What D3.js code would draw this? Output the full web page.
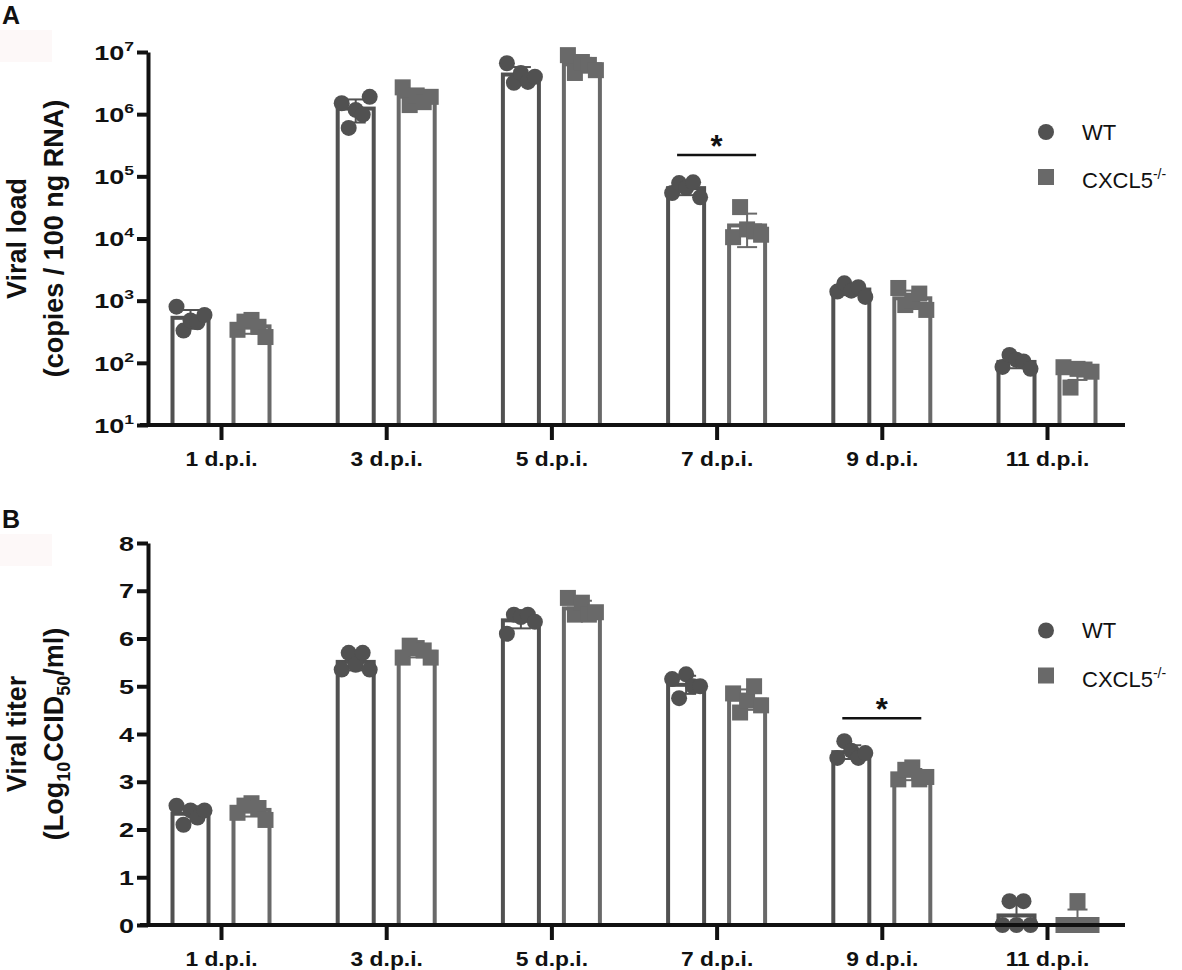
<!DOCTYPE html>
<html>
<head>
<meta charset="utf-8">
<script src="https://cdn.jsdelivr.net/npm/d3@7"></script>
<style>
  body { margin: 0; background: #fff; }
  text { font-family: "Liberation Sans", Arial, sans-serif; fill: #111; }
</style>
</head>
<body>
<svg id="chart" width="1182" height="970"></svg>
<script>
// categories
const days = ['1 d.p.i.', '3 d.p.i.', '5 d.p.i.', '7 d.p.i.', '9 d.p.i.', '11 d.p.i.'];
const groups = ['WT', 'CXCL5'];

// panel A - viral load (copies / 100 ng RNA), 5 animals per group
const loadWT = [
  [800, 330, 480, 450, 590],
  [1.5e6, 6.0e5, 1.17e6, 9.8e5, 1.9e6],
  [6.6e6, 3.2e6, 4.6e6, 3.3e6, 4.0e6],
  [5.4e4, 7.8e4, 6.5e4, 8.0e4, 4.6e4],
  [1.4e3, 1.9e3, 1.45e3, 1.65e3, 1.15e3],
  [86, 134, 112, 105, 80]
];
const loadKO = [
  [340, 460, 490, 380, 260],
  [2.7e6, 1.4e6, 2.0e6, 1.56e6, 1.9e6],
  [8.9e6, 4.6e6, 6.9e6, 6.2e6, 5.1e6],
  [1.05e4, 3.2e4, 1.4e4, 1.3e4, 1.15e4],
  [1.6e3, 850, 1.0e3, 1.3e3, 710],
  [85, 40, 80, 78, 72]
];
const loadTicks = [1e1, 1e2, 1e3, 1e4, 1e5, 1e6, 1e7];
const loadSig = [{ day: '7 d.p.i.', value: 2.2e5 }];

// panel B - viral titer (Log10 CCID50/ml)
const titerWT = [
  [2.5, 2.1, 2.4, 2.25, 2.4],
  [5.35, 5.7, 5.45, 5.7, 5.35],
  [6.1, 6.5, 6.45, 6.5, 6.35],
  [5.15, 4.75, 5.25, 5.0, 5.0],
  [3.5, 3.85, 3.65, 3.5, 3.6],
  [0, 0.5, 0, 0.5, 0]
];
const titerKO = [
  [2.35, 2.5, 2.55, 2.45, 2.2],
  [5.6, 5.85, 5.8, 5.75, 5.6],
  [6.85, 6.5, 6.75, 6.5, 6.55],
  [4.85, 4.45, 4.7, 5.0, 4.6],
  [3.05, 3.25, 3.3, 3.05, 3.1],
  [0, 0, 0.5, 0, 0]
];
const titerTicks = [0, 1, 2, 3, 4, 5, 6, 7, 8];
const titerSig = [{ day: '9 d.p.i.', value: 4.33 }];

const colors = { WT: '#515151', CXCL5: '#696969' };
const axisLeftX = 148;
const axisRightX = 1125;

let svg = d3.select('#chart');

let x = d3.scalePoint().domain(days).range([221, 1047]);
let inner = d3.scaleBand().domain(groups).range([-50.5, 50.5]).paddingInner(0.344);
let jitter = d3.scalePoint().domain(d3.range(5)).range([-14, 14]);

drawPanel({
  letter: 'A', letterY: 24, top: 52, bottom: 425,
  y: d3.scaleLog().domain([10, 1e7]).range([425, 52]),
  wt: loadWT, ko: loadKO, ticks: loadTicks, log: true,
  sig: loadSig, legendY: 132,
  title: [[{ t: 'Viral load' }], [{ t: '(copies / 100 ng RNA)' }]]
});

drawPanel({
  letter: 'B', letterY: 528, top: 543, bottom: 925,
  y: d3.scaleLinear().domain([0, 8]).range([925, 543]),
  wt: titerWT, ko: titerKO, ticks: titerTicks, log: false,
  sig: titerSig, legendY: 630.5,
  title: [[{ t: 'Viral titer' }],
          [{ t: '(Log' }, { t: '10', sub: true }, { t: 'CCID' }, { t: '50', sub: true }, { t: '/ml)' }]]
});

function drawPanel(p) {
  let g = svg.append('g');
  let y = p.y;
  let base = p.bottom;

  // faint box behind panel letter
  g.append('rect')
    .attr('x', 0).attr('y', p.letterY + 6)
    .attr('width', 52).attr('height', 32)
    .attr('fill', '#fdf8f8');

  g.append('text')
    .attr('x', 2).attr('y', p.letterY)
    .style('font-size', '25px').style('font-weight', 'bold')
    .text(p.letter);

  // flatten data to rows
  let rows = [];
  days.forEach((d, i) => {
    [['WT', p.wt[i]], ['CXCL5', p.ko[i]]].forEach(([grp, vals]) => {
      let mean = d3.mean(vals);
      let sd = d3.deviation(vals);
      rows.push({ day: d, grp: grp, vals: vals, mean: mean, sd: sd });
    });
  });

  let cx = r => x(r.day) + inner(r.grp) + inner.bandwidth() / 2;

  // bars
  g.selectAll('.bar')
    .data(rows)
    .enter()
    .append('rect')
    .attr('class', 'bar')
    .attr('x', r => x(r.day) + inner(r.grp) + 2)
    .attr('width', inner.bandwidth() - 4)
    .attr('y', r => y(r.mean))
    .attr('height', r => base - y(r.mean))
    .style('fill', '#fff')
    .style('stroke', r => colors[r.grp])
    .style('stroke-width', 4);

  // error bars (mean +/- SD)
  let eb = g.selectAll('.err')
    .data(rows)
    .enter()
    .append('g')
    .attr('class', 'err')
    .style('stroke', r => colors[r.grp])
    .style('stroke-width', 2);

  let lo = r => {
    let v = r.mean - r.sd;
    return v > y.domain()[0] ? y(v) : y(r.mean);
  };
  eb.append('line')
    .attr('x1', cx).attr('x2', cx)
    .attr('y1', r => y(r.mean + r.sd))
    .attr('y2', lo);
  eb.append('line')
    .attr('x1', r => cx(r) - 10).attr('x2', r => cx(r) + 10)
    .attr('y1', r => y(r.mean + r.sd)).attr('y2', r => y(r.mean + r.sd));
  eb.append('line')
    .attr('x1', r => cx(r) - 10).attr('x2', r => cx(r) + 10)
    .attr('y1', lo).attr('y2', lo);

  // individual animals
  let pts = [];
  rows.forEach(r => r.vals.forEach((v, i) => pts.push({ r: r, v: v, i: i })));

  g.selectAll('.dot')
    .data(pts.filter(d => d.r.grp === 'WT'))
    .enter()
    .append('circle')
    .attr('class', 'dot')
    .attr('cx', d => cx(d.r) + jitter(d.i))
    .attr('cy', d => y(d.v))
    .attr('r', 8)
    .style('fill', colors.WT);

  g.selectAll('.sq')
    .data(pts.filter(d => d.r.grp === 'CXCL5'))
    .enter()
    .append('rect')
    .attr('class', 'sq')
    .attr('x', d => cx(d.r) + jitter(d.i) - 8)
    .attr('y', d => y(d.v) - 8)
    .attr('width', 16)
    .attr('height', 16)
    .style('fill', colors.CXCL5);

  // y axis
  let yAxis = g.append('g')
    .attr('transform', `translate(${axisLeftX},0)`)
    .call(d3.axisLeft(y).tickValues(p.ticks).tickSize(11).tickSizeOuter(0).tickFormat(d => d));
  yAxis.select('.domain').style('stroke', '#111').style('stroke-width', 4);
  yAxis.selectAll('.tick line').style('stroke', '#111').style('stroke-width', 4);
  yAxis.selectAll('.tick text')
    .attr('x', 0)
    .attr('dy', '0.36em')
    .attr('transform', 'translate(-14,0) scale(1.35,1)')
    .style('font-size', '20px')
    .style('font-weight', 'bold')
    .each(function(d) {
      if (!p.log) return;
      let t = d3.select(this);
      t.text('');
      t.append('tspan').text('10');
      t.append('tspan').attr('dy', -9).style('font-size', '13px').text(Math.round(Math.log10(d)));
    });

  // x axis
  g.append('line')
    .attr('x1', axisLeftX - 8).attr('x2', axisRightX)
    .attr('y1', base).attr('y2', base)
    .style('stroke', '#111').style('stroke-width', 4);

  let xAxis = g.append('g')
    .attr('transform', `translate(0,${base})`)
    .call(d3.axisBottom(x).tickSize(15).tickSizeOuter(0));
  xAxis.select('.domain').remove();
  xAxis.selectAll('.tick line').style('stroke', '#111').style('stroke-width', 4);
  xAxis.selectAll('.tick text')
    .attr('y', 0)
    .attr('dy', 0)
    .attr('transform', 'translate(0,41) scale(1.17,1)')
    .style('font-size', '19.5px')
    .style('font-weight', 'bold');

  // axis title
  let midY = (p.top + p.bottom) / 2;
  let title = g.append('g')
    .attr('transform', `translate(0,${midY}) rotate(-90)`);
  p.title.forEach((line, li) => {
    let t = title.append('text')
      .attr('x', 0)
      .attr('y', li === 0 ? 26 : 63)
      .style('text-anchor', 'middle')
      .style('font-size', '27px')
      .style('font-weight', 'bold');
    let shifted = false;
    line.forEach(part => {
      let ts = t.append('tspan').text(part.t);
      if (part.sub) {
        ts.attr('dy', 7).style('font-size', '18px');
        shifted = true;
      } else if (shifted) {
        ts.attr('dy', -7);
        shifted = false;
      }
    });
  });

  // significance
  let sig = g.selectAll('.sig')
    .data(p.sig)
    .enter()
    .append('g')
    .attr('class', 'sig');
  sig.append('line')
    .attr('x1', d => x(d.day) - 39.5)
    .attr('x2', d => x(d.day) + 39.5)
    .attr('y1', d => y(d.value))
    .attr('y2', d => y(d.value))
    .style('stroke', '#111')
    .style('stroke-width', 2.5);
  sig.append('text')
    .attr('x', d => x(d.day))
    .attr('y', d => y(d.value) + 2)
    .style('text-anchor', 'middle')
    .style('font-size', '31px')
    .style('font-weight', 'bold')
    .text('*');

  // legend
  let leg = g.append('g').attr('transform', `translate(1046,${p.legendY})`);
  leg.append('circle').attr('cx', 0).attr('cy', 0).attr('r', 8).style('fill', colors.WT);
  leg.append('rect').attr('x', -8).attr('y', 37).attr('width', 16).attr('height', 16).style('fill', colors.CXCL5);
  leg.append('text')
    .attr('x', 36).attr('y', 7.5)
    .style('font-size', '22px')
    .text('WT');
  let ko = leg.append('text')
    .attr('x', 36).attr('y', 56)
    .style('font-size', '22px');
  ko.append('tspan').text('CXCL5');
  ko.append('tspan').attr('dy', -9).style('font-size', '14px').text('-/-');
}
</script>
</body>
</html>
